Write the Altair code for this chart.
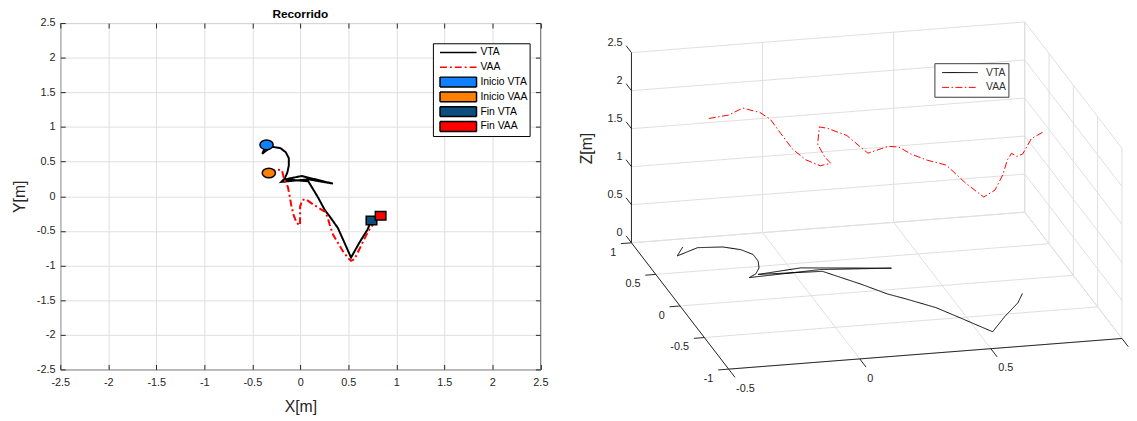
import altair as alt
import pandas as pd

# ---------------- data ----------------
series_names = ["VTA", "VAA"]
marker_names = ["Inicio VTA", "Inicio VAA", "Fin VTA", "Fin VAA"]
legend_names = series_names + marker_names

vta_x = [-0.352, -0.397, -0.301, -0.208, -0.151, -0.120, -0.120, -0.136, -0.164, -0.198,
         0.083, 0.340, 0.014, -0.157, 0.083, 0.186, 0.254, 0.306, 0.391, 0.460,
         0.528, 0.614, 0.699, 0.741]
vta_y = [0.742, 0.614, 0.714, 0.695, 0.634, 0.548, 0.443, 0.339, 0.254, 0.207,
         0.244, 0.182, 0.292, 0.244, 0.215, -0.021, -0.198, -0.292, -0.459, -0.672,
         -0.886, -0.672, -0.483, -0.349]
vta_z = [0.12, 0.12, 0.12, 0.12, 0.12, 0.12, 0.12, 0.12, 0.12, 0.12,
         0.12, 0.12, 0.12, 0.12, 0.12, 0.12, 0.12, 0.12, 0.12, 0.12,
         0.12, 0.12, 0.12, 0.12]

vaa_x = [-0.328, -0.243, -0.192, -0.174, -0.157, -0.130, -0.113, -0.095, -0.071, -0.037,
         -0.003, -0.003, -0.003, 0.021, 0.055, 0.117, 0.186, 0.254, 0.281, 0.306,
         0.340, 0.391, 0.442, 0.494, 0.528, 0.563, 0.597, 0.631, 0.672, 0.717,
         0.768, 0.836]
vaa_y = [0.335, 0.386, 0.372, 0.278, 0.207, 0.135, 0.016, -0.127, -0.269, -0.387,
         -0.420, -0.292, -0.150, -0.056, -0.041, -0.103, -0.164, -0.221, -0.292, -0.412,
         -0.554, -0.672, -0.791, -0.886, -0.933, -0.910, -0.815, -0.719, -0.601, -0.483,
         -0.387, -0.283]
vaa_z = [2.14, 2.12, 2.21, 2.25, 2.28, 2.24, 2.15, 2.06, 2.03, 2.04,
         2.09, 2.07, 2.12, 2.26, 2.22, 2.16, 1.96, 2.08, 2.12, 2.12,
         2.15, 2.17, 2.02, 1.90, 2.02, 2.20, 2.30, 2.30, 2.15, 2.07,
         2.18, 2.17]

marker_x = [-0.352, -0.328, 0.741, 0.836]
marker_y = [0.742, 0.335, -0.349, -0.283]

ticks_2d = [-2.5, -2.0, -1.5, -1.0, -0.5, 0.0, 0.5, 1.0, 1.5, 2.0, 2.5]
x3_ticks = [-0.5, 0.0, 0.5, 1.0]
y3_ticks = [-1.0, -0.5, 0.0, 0.5, 1.0]
z3_ticks = [0.0, 0.5, 1.0, 1.5, 2.0, 2.5]
x3_labels = ["-0.5", "0", "0.5", "1"]
y3_labels = ["-1", "-0.5", "0", "0.5", "1"]
z3_labels = ["0", "0.5", "1", "1.5", "2", "2.5"]

# ---------------- styles / layout ----------------
FONT = "Liberation Sans"
AX = "#262626"
GRID = "#dedede"
W1, H1 = 486.5, 351
W2, H2 = 557, 385

fill_range = ["#ffffff", "#ffffff", "#0f80ff", "#ff8000", "#0b4d7f", "#ff0000"]
stroke_range = ["#000000", "#ff0000", "#000000", "#000000", "#000000", "#000000"]
dash_range = [[1, 0], [7, 3, 2, 3], [1, 0], [1, 0], [1, 0], [1, 0]]
LINE_SYM = "M-1.85,0H1.85"
RECT_SYM = "M-1.85,-0.5H1.85V0.5H-1.85Z"
shape_range = [LINE_SYM, LINE_SYM, RECT_SYM, RECT_SYM, RECT_SYM, RECT_SYM]
ELLIPSE = "M-1,0A1,0.73,0,1,1,1,0A1,0.73,0,1,1,-1,0Z"
SQUARE = "M-1,-0.8H1V0.8H-1Z"

# orthographic projection of the 3-D box, in plot pixels of the right panel
P0U, P0V = 155.5, 350.7
EXU, EXV = 265.7, -20.7
EYU, EYV = -49.25, -64.0
EZV = -77.1
XMIN, XMAX = x3_ticks[0], x3_ticks[-1]
YMIN, YMAX = y3_ticks[0], y3_ticks[-1]
ZMIN, ZMAX = z3_ticks[0], z3_ticks[-1]


def uexpr(xe, ye):
    return f"{P0U}+({EXU})*(({xe})-({XMIN}))+({EYU})*(({ye})-({YMIN}))"


def vexpr(xe, ye, ze):
    return (f"{P0V}+({EXV})*(({xe})-({XMIN}))+({EYV})*(({ye})-({YMIN}))"
            f"+({EZV})*(({ze})-({ZMIN}))")


# ---------------- tables ----------------
df_lines = pd.DataFrame({
    "name": ["VTA"] * len(vta_x) + ["VAA"] * len(vaa_x),
    "i": list(range(len(vta_x))) + list(range(len(vaa_x))),
    "x": vta_x + vaa_x,
    "y": vta_y + vaa_y,
    "z": vta_z + vaa_z,
})
df_markers = pd.DataFrame({"name": marker_names, "x": marker_x, "y": marker_y})
df_legend = pd.DataFrame({"name": legend_names})

# ---------------- left: 2-D chart ----------------
xsc = alt.Scale(domain=[ticks_2d[0], ticks_2d[-1]], nice=False, zero=False)
ysc = alt.Scale(domain=[ticks_2d[0], ticks_2d[-1]], nice=False, zero=False)
fill_sc = alt.Scale(domain=legend_names, range=fill_range)
stroke_sc = alt.Scale(domain=legend_names, range=stroke_range)
dash_sc = alt.Scale(domain=legend_names, range=dash_range)
shape_sc = alt.Scale(domain=legend_names, range=shape_range)

LBL = "replace(datum.label, '\u2212', '-')"
common_axis = dict(values=ticks_2d, format=".1~f", labelExpr=LBL, domain=False,
                   ticks=True, tickSize=5, tickColor=AX, tickWidth=1, offset=-5,
                   labelFont=FONT, labelFontSize=11, labelColor=AX,
                   titleFont=FONT, titleFontSize=16, titleFontWeight="normal",
                   titleColor=AX, labelFlush=False, labelOverlap=False,
                   grid=True, gridColor=GRID, gridWidth=1)
xaxis_main = alt.Axis(orient="bottom", title="X[m]", labelPadding=7.8,
                      titlePadding=11.0, **common_axis)
yaxis_main = alt.Axis(orient="left", title="Y[m]", labelPadding=5.4,
                      titlePadding=9.2, **common_axis)
mirror = dict(values=ticks_2d, labels=False, domain=False, grid=False, ticks=True,
              tickSize=5, tickColor=AX, tickWidth=1, offset=-5, title=None,
              minExtent=0, maxExtent=0)
xaxis_top = alt.Axis(orient="top", **mirror)
yaxis_right = alt.Axis(orient="right", **mirror)

leg = alt.Legend(title=None, orient="none", legendX=377.6, legendY=20.5, offset=0,
                 padding=2, fillColor="white", strokeColor="black", cornerRadius=0,
                 labelFont=FONT, labelFontSize=10.5, labelColor="black",
                 symbolSize=400, symbolStrokeWidth=1.5, symbolOpacity=1,
                 clipHeight=14.6, rowPadding=0, symbolOffset=12.7, labelOffset=11.4)

legend_layer = alt.Chart(df_legend).mark_point(filled=True, opacity=1).encode(
    fill=alt.Fill("name:N", scale=fill_sc, legend=leg),
    stroke=alt.Stroke("name:N", scale=stroke_sc, legend=leg),
    shape=alt.Shape("name:N", scale=shape_sc, legend=leg),
    strokeDash=alt.StrokeDash("name:N", scale=dash_sc, legend=leg),
).transform_filter("false")

lines2d = alt.Chart(df_lines).mark_line(strokeWidth=2).encode(
    x=alt.X("x:Q", scale=xsc, axis=xaxis_main),
    y=alt.Y("y:Q", scale=ysc, axis=yaxis_main),
    order=alt.Order("i:Q"),
    stroke=alt.Stroke("name:N", scale=stroke_sc, legend=None),
    strokeDash=alt.StrokeDash("name:N", scale=dash_sc, legend=None),
)

circles = alt.Chart(df_markers).transform_filter(
    alt.FieldOneOfPredicate(field="name", oneOf=marker_names[:2])
).mark_point(shape=ELLIPSE, filled=True, size=180, stroke="black",
             strokeWidth=1.5, opacity=1).encode(
    x=alt.X("x:Q", scale=xsc, axis=xaxis_top),
    y=alt.Y("y:Q", scale=ysc, axis=yaxis_right),
    fill=alt.Fill("name:N", scale=fill_sc, legend=None),
)
squares = alt.Chart(df_markers).transform_filter(
    alt.FieldOneOfPredicate(field="name", oneOf=marker_names[2:])
).mark_point(shape=SQUARE, filled=True, size=115, stroke="black",
             strokeWidth=1.5, opacity=1).encode(
    x=alt.X("x:Q", scale=xsc, axis=None),
    y=alt.Y("y:Q", scale=ysc, axis=None),
    fill=alt.Fill("name:N", scale=fill_sc, legend=None),
)

left = alt.layer(legend_layer, lines2d, circles, squares).resolve_axis(
    x="independent", y="independent"
).properties(
    width=W1, height=H1,
    title=alt.TitleParams(text="Recorrido", font=FONT, fontSize=12, fontWeight="bold",
                          color="black", offset=-12.5, baseline="alphabetic",
                          frame="group", anchor="middle"),
    view=alt.ViewBackground(stroke=AX, strokeWidth=1),
)

# ---------------- right: 3-D chart ----------------
usc = alt.Scale(domain=[0, W2], nice=False, zero=False)
vsc = alt.Scale(domain=[0, H2], nice=False, zero=False, reverse=True)

grid_rows = []
for z in z3_ticks:
    grid_rows.append((XMIN, YMAX, z, XMAX, YMAX, z))
    grid_rows.append((XMAX, YMIN, z, XMAX, YMAX, z))
for x in x3_ticks:
    grid_rows.append((x, YMAX, ZMIN, x, YMAX, ZMAX))
    grid_rows.append((x, YMIN, ZMIN, x, YMAX, ZMIN))
for y in y3_ticks:
    grid_rows.append((XMAX, y, ZMIN, XMAX, y, ZMAX))
    grid_rows.append((XMIN, y, ZMIN, XMAX, y, ZMIN))
cols = ["x1", "y1", "z1", "x2", "y2", "z2"]
df_grid = pd.DataFrame(grid_rows, columns=cols)

TZ, TY, TX = 0.11, 0.04, 0.13  # tick lengths in data units
axis_rows = [(XMIN, YMAX, ZMIN, XMIN, YMAX, ZMAX),
             (XMIN, YMIN, ZMIN, XMIN, YMAX, ZMIN),
             (XMIN, YMIN, ZMIN, XMAX, YMIN, ZMIN)]
for z in z3_ticks:
    axis_rows.append((XMIN, YMAX, z, XMIN, YMAX + TZ, z))
for y in y3_ticks:
    axis_rows.append((XMIN, y, ZMIN, XMIN - TY, y, ZMIN))
for x in x3_ticks:
    axis_rows.append((x, YMIN, ZMIN, x, YMIN - TX, ZMIN))
df_axes = pd.DataFrame(axis_rows, columns=cols)


def segments(df, color, width):
    return alt.Chart(df).transform_calculate(
        u1=uexpr("datum.x1", "datum.y1"),
        v1=vexpr("datum.x1", "datum.y1", "datum.z1"),
        u2=uexpr("datum.x2", "datum.y2"),
        v2=vexpr("datum.x2", "datum.y2", "datum.z2"),
    ).mark_rule(color=color, strokeWidth=width).encode(
        x=alt.X("u1:Q", scale=usc, axis=None),
        y=alt.Y("v1:Q", scale=vsc, axis=None),
        x2="u2:Q", y2="v2:Q",
    )


grid3 = segments(df_grid, GRID, 1)
axes3 = segments(df_axes, AX, 1)

text_style = dict(font=FONT, fontSize=11, color=AX)
zlab = alt.Chart(pd.DataFrame({"t": z3_labels, "z": z3_ticks})).transform_calculate(
    u=uexpr(XMIN, YMAX), v=vexpr(XMIN, YMAX, "datum.z")
).mark_text(align="right", baseline="middle", dx=-9, dy=-9.5, **text_style).encode(
    x=alt.X("u:Q", scale=usc, axis=None), y=alt.Y("v:Q", scale=vsc, axis=None), text="t:N")
ylab = alt.Chart(pd.DataFrame({"t": y3_labels, "y": y3_ticks})).transform_calculate(
    u=uexpr(XMIN, "datum.y"), v=vexpr(XMIN, "datum.y", ZMIN)
).mark_text(align="right", baseline="middle", dx=-15.5, dy=10, **text_style).encode(
    x=alt.X("u:Q", scale=usc, axis=None), y=alt.Y("v:Q", scale=vsc, axis=None), text="t:N")
xlab = alt.Chart(pd.DataFrame({"t": x3_labels, "x": x3_ticks})).transform_calculate(
    u=uexpr("datum.x", YMIN), v=vexpr("datum.x", YMIN, ZMIN)
).mark_text(align="left", baseline="middle", dx=7.5, dy=20, clip=True,
            **text_style).encode(
    x=alt.X("u:Q", scale=usc, axis=None), y=alt.Y("v:Q", scale=vsc, axis=None), text="t:N")
# rotated title: for angle 270, dy moves horizontally and dx vertically
ztitle = alt.Chart(pd.DataFrame({"t": ["Z[m]"]})).transform_calculate(
    u=uexpr(XMIN, YMAX), v=vexpr(XMIN, YMAX, (ZMIN + ZMAX) / 2)
).mark_text(align="center", baseline="middle", dx=-0.9, dy=-44.5, angle=270,
            font=FONT, fontSize=16, color=AX).encode(
    x=alt.X("u:Q", scale=usc, axis=None), y=alt.Y("v:Q", scale=vsc, axis=None), text="t:N")

leg3 = alt.Legend(title=None, orient="none", legendX=364, legendY=40.7, offset=0,
                  padding=2, fillColor="white", strokeColor="#3a3a3a", cornerRadius=0,
                  labelFont=FONT, labelFontSize=10.5, labelColor="#333333",
                  symbolType="stroke", symbolSize=1296, symbolStrokeWidth=1,
                  symbolOpacity=1, clipHeight=15, rowPadding=0,
                  symbolOffset=5.35, labelOffset=8)
stroke3 = alt.Scale(domain=series_names, range=["#000000", "#ff0000"])
dash3 = alt.Scale(domain=series_names, range=[[1, 0], [7, 2.5, 1.5, 2.5]])
lines3d = alt.Chart(df_lines).transform_calculate(
    u=uexpr("datum.x", "datum.y"), v=vexpr("datum.x", "datum.y", "datum.z")
).mark_line(strokeWidth=1).encode(
    x=alt.X("u:Q", scale=usc, axis=None),
    y=alt.Y("v:Q", scale=vsc, axis=None),
    order=alt.Order("i:Q"),
    stroke=alt.Stroke("name:N", scale=stroke3, legend=leg3),
    strokeDash=alt.StrokeDash("name:N", scale=dash3, legend=leg3),
)

right = alt.layer(grid3, axes3, zlab, ylab, xlab, ztitle, lines3d).properties(
    width=W2, height=H2)

chart = alt.hconcat(left, right, spacing=26.8).resolve_scale(
    fill="independent", stroke="independent", strokeDash="independent",
    shape="independent"
).properties(
    padding={"left": 2, "top": -3.5, "right": 0, "bottom": 0}
).configure(font=FONT).configure_view(strokeWidth=0)

chart.save("out.html", embed_options={"renderer": "svg", "actions": False})
